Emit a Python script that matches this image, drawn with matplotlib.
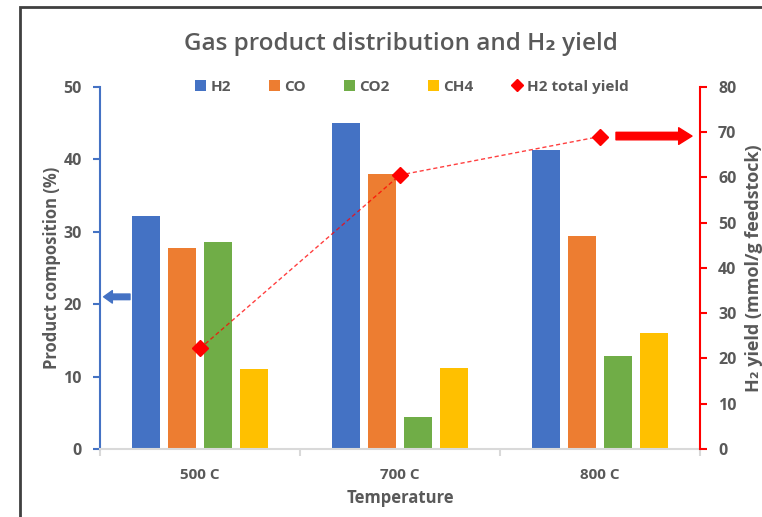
import matplotlib
matplotlib.use("Agg")
import matplotlib.pyplot as plt
import numpy as np
from matplotlib.patches import Rectangle

plt.rcParams['font.family'] = ['Open Sans', 'DejaVu Sans']

categories = ["500 C", "700 C", "800 C"]
h2 = [32.2, 45.0, 41.3]
co = [27.8, 38.0, 29.4]
co2 = [28.5, 4.4, 12.9]
ch4 = [11.0, 11.2, 16.0]
h2_yield = [22.2, 60.5, 69.0]
left_ticks = [0, 10, 20, 30, 40, 50]
right_ticks = [0, 10, 20, 30, 40, 50, 60, 70, 80]

series = [("H2", h2, "#4472C4"), ("CO", co, "#ED7D31"),
          ("CO2", co2, "#70AD47"), ("CH4", ch4, "#FFC000")]

txt = "#595959"
fig = plt.figure(figsize=(7.62, 5.17), dpi=100)
ax = fig.add_axes([100/762, 1-449/517, 600/762, (449-86.7)/517])
ax2 = ax.twinx()

x = np.arange(len(categories))
step = 0.18
width = 0.1415
handles = []
for i, (name, vals, col) in enumerate(series):
    b = ax.bar(x + (i-1.5)*step, vals, width, color=col, label=name, zorder=2)
    handles.append(b)

ln, = ax2.plot(x, h2_yield, color="red", lw=1, ls=(0, (3, 2)), alpha=0.75, zorder=3)
mk, = ax2.plot(x, h2_yield, ls="none", marker="D", markersize=8.5, color="red",
               label="H2 total yield", zorder=4)

ax.set_xlim(-0.5, 2.5)
ax.set_ylim(0, 50)
ax2.set_ylim(0, 80)
ax.set_yticks(left_ticks)
ax2.set_yticks(right_ticks)
ax.set_xticks(x)
ax.set_xticklabels(categories)
ax.set_xticks([-0.5, 0.5, 1.5, 2.5], minor=True)

for a in (ax, ax2):
    for s in a.spines.values():
        s.set_visible(False)
ax.spines['left'].set_visible(True)
ax.spines['left'].set_color("#4472C4")
ax.spines['left'].set_linewidth(1.5)
ax.spines['bottom'].set_visible(True)
ax.spines['bottom'].set_color("#D9D9D9")
ax.spines['bottom'].set_linewidth(1.5)
ax2.spines['right'].set_visible(True)
ax2.spines['right'].set_color("red")
ax2.spines['right'].set_linewidth(1.5)

ax.tick_params(axis='y', colors="#4472C4", labelcolor=txt, length=5, width=1.5,
               labelsize=11.5, pad=8)
ax2.tick_params(axis='y', colors="red", labelcolor=txt, length=5, width=1.5,
                labelsize=11.5, pad=8)
ax.tick_params(axis='x', which='major', length=0, labelcolor=txt, labelsize=11, pad=14)
ax.tick_params(axis='x', which='minor', length=5, width=1.5, color="#D9D9D9")
for lab in ax.get_yticklabels() + ax2.get_yticklabels() + ax.get_xticklabels():
    lab.set_fontweight('bold')

ax.set_ylabel("Product composition (%)", color=txt, fontsize=12, fontweight='bold', labelpad=2)
ax2.set_ylabel("H\u2082 yield (mmol/g feedstock)", color=txt, fontsize=13,
               fontweight='bold', labelpad=6)
ax.set_xlabel("Temperature", color=txt, fontsize=12, fontweight='bold', labelpad=5)

fig.text(401/762, 1-44/517, "Gas product distribution and H\u2082 yield",
         ha='center', va='center', fontsize=17.5, color=txt, fontweight='semibold')

leg = ax.legend(handles + [mk], [s[0] for s in series] + ["H2 total yield"],
                loc='center', bbox_to_anchor=(0.52, 1.0), ncol=5, frameon=False,
                fontsize=11, handlelength=0.7, handleheight=0.7, handletextpad=0.3,
                columnspacing=2.5, markerscale=0.75)
for t in leg.get_texts():
    t.set_color(txt)
    t.set_fontweight('bold')

# arrows indicating axes
ax.annotate("", xy=(0.006, 21.0), xytext=(0.05, 21.0),
            xycoords=('axes fraction', 'data'), textcoords=('axes fraction', 'data'),
            arrowprops=dict(arrowstyle="simple,head_length=0.7,head_width=1.0,tail_width=0.45",
                            color="#4472C4", mutation_scale=9, shrinkA=0, shrinkB=0))
ax2.annotate("", xy=(2.46, 69.1), xytext=(2.08, 69.1),
             arrowprops=dict(arrowstyle="simple,head_length=0.8,head_width=1.0,tail_width=0.45",
                             color="red", mutation_scale=12, shrinkA=0, shrinkB=0))

# outer frame
fig.patches.append(Rectangle((20/762, -0.1), 1.2, (1-7/517)+0.1, transform=fig.transFigure,
                             fill=False, edgecolor="#404040", lw=2))

fig.savefig("out.png", dpi=100)
